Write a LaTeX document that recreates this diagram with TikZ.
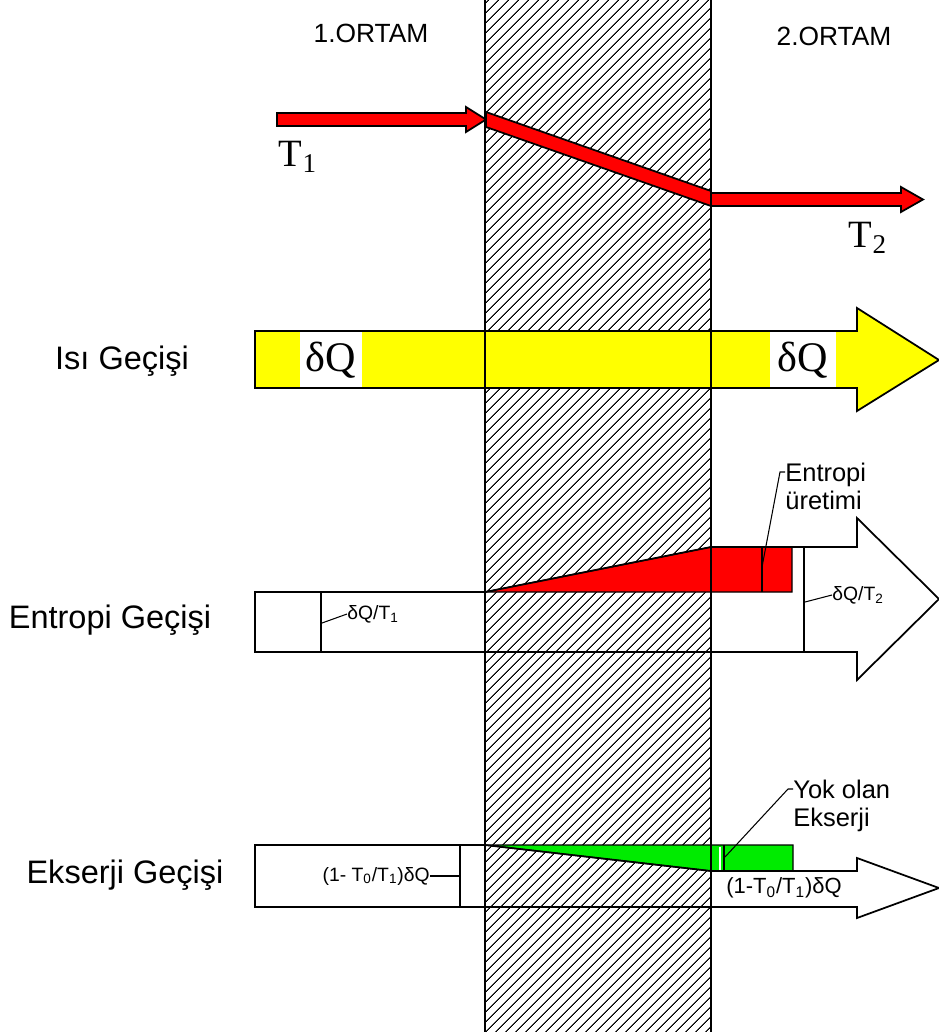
\documentclass[tikz,border=0pt]{standalone}
\usepackage{fontspec}
\setmainfont{Liberation Sans}
\newfontfamily\serifT{Liberation Serif}
\usetikzlibrary{patterns.meta}

\definecolor{heatyellow}{RGB}{255,255,0}
\definecolor{genred}{RGB}{255,0,0}
\definecolor{lostgreen}{RGB}{0,235,0}

\begin{document}
\begin{tikzpicture}[
    x=0.02cm, y=-0.02cm,
    wall/.style={pattern={Lines[angle=45, distance=4pt, line width=0.65pt]}},
    edge/.style={draw=black, line width=1pt, line join=miter},
    thin edge/.style={draw=black, line width=0.7pt},
    rowlbl/.style={font=\fontsize{18.5}{21}\selectfont, inner sep=0pt},
    ortam/.style={font=\fontsize{15}{18}\selectfont, inner sep=0pt},
    sym/.style={font=\serifT\fontsize{24}{28}\selectfont, inner sep=0pt},
    temp/.style={font=\serifT\fontsize{22}{26}\selectfont, inner sep=0pt},
    small/.style={font=\fontsize{11}{13}\selectfont, inner sep=0pt},
    note/.style={font=\fontsize{14.5}{16}\selectfont, align=left, inner sep=0pt},
    leader/.style={draw=black, line width=0.6pt}
]
\useasboundingbox (0,0) rectangle (939,1032);

\fill[wall] (485,0) rectangle (711,1032);

\node[ortam] (ortamA) at (371,33) {1.ORTAM};
\node[ortam] (ortamB) at (834,36) {2.ORTAM};

% temperature line
\filldraw[fill=genred, edge] (277,113) -- (466,113) -- (466,107) -- (486,119.5) -- (466,132) -- (466,126) -- (277,126) -- cycle;
\filldraw[fill=genred, edge] (486,112) -- (711,191) -- (711,206) -- (486,127) -- cycle;
\filldraw[fill=genred, edge] (711,193) -- (901,193) -- (901,187) -- (923,199.5) -- (901,212) -- (901,206) -- (711,206) -- cycle;
\node[temp] (tA) at (298,157) {T\textsubscript{1}};
\node[temp] (tB) at (868,238) {T\textsubscript{2}};

% heat
\filldraw[fill=heatyellow, edge] (255,331) -- (857,331) -- (857,308) -- (939,360) -- (857,411) -- (857,388) -- (255,388) -- cycle;
\fill[white] (300,332) rectangle (362,387);
\fill[white] (770,332) rectangle (836,387);
\draw[edge] (485,331) rectangle (711,388);
\node[sym] (dqA) at (331,360) {δQ};
\node[sym] (dqB) at (803,360) {δQ};
\node[rowlbl] (isiLbl) at (122,361) {Isı Geçişi};

% entropy
\filldraw[fill=genred, thin edge] (485,592) -- (711,547) -- (792,547) -- (792,592) -- cycle;
\draw[edge] (255,592) -- (485,592) -- (711,547) -- (857,547) -- (857,518) -- (939,599) -- (857,680) -- (857,652) -- (255,652) -- cycle;
\draw[edge] (321,592) -- (321,652);
\draw[edge] (804,547) -- (804,652);
\draw[thin edge] (762,547) -- (762,592);
\node[rowlbl] (entLbl) at (110,620) {Entropi Geçişi};
\node[small, anchor=west] (entA) at (347,614) {δQ/T\textsubscript{1}};
\node[small, anchor=west] (entB) at (832,595) {δQ/T\textsubscript{2}};
\node[note, anchor=west] (uretim) at (785,486) {Entropi\\üretimi};
\coordinate (entAfoot) at (322,623);
\coordinate (entBfoot) at (805,602);
\coordinate (uretfoot) at (762,567);
\coordinate (uretkink) at (780,472);
\draw[leader] (entAfoot) -- (entA.west);
\draw[leader] (entBfoot) -- (entB.west);
\draw[leader] (uretfoot) -- (uretkink) -- (uretkink -| uretim.west);

% exergy
\filldraw[fill=lostgreen, thin edge] (485,845) -- (793,845) -- (793,871) -- (711,871) -- cycle;
\draw[edge] (255,845) -- (485,845) -- (711,871) -- (857,871) -- (857,858) -- (939,888) -- (857,918) -- (857,907) -- (255,907) -- cycle;
\draw[edge] (460,845) -- (460,907);
\draw[white, line width=1.6pt] (720,846.5) -- (720,869.5);
\draw[thin edge] (724,845) -- (724,871);
\node[rowlbl] (eksLbl) at (125,875) {Ekserji Geçişi};
\node[small, anchor=east] (eksA) at (430,876) {(1- T\textsubscript{0}/T\textsubscript{1})δQ};
\node[font=\fontsize{12.5}{14}\selectfont, inner sep=0pt] (eksB) at (784,888) {(1-T\textsubscript{0}/T\textsubscript{1})δQ};
\node[note, anchor=west] (yokolan) at (793,806) {Yok olan\\Ekserji};
\coordinate (eksAfoot) at (460,876);
\coordinate (yokfoot) at (725,857);
\coordinate (yokkink) at (788,789);
\draw[leader] (eksA.east) -- (eksAfoot);
\draw[leader] (yokfoot) -- (yokkink) -- (yokkink -| yokolan.west);

% wall borders
\draw[line width=1.1pt] (485,0) -- (485,1032);
\draw[line width=1.1pt] (711,0) -- (711,1032);

\end{tikzpicture}
\end{document}
